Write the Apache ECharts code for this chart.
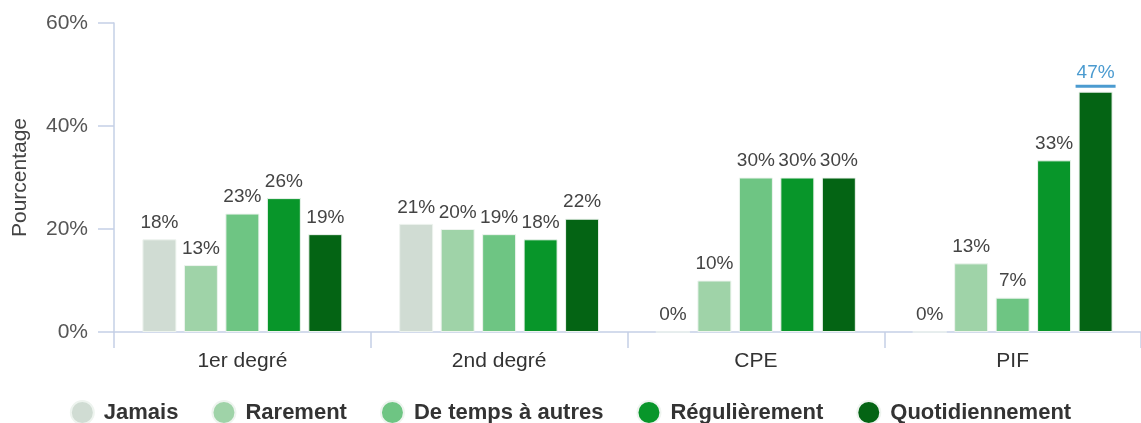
<!DOCTYPE html>
<html lang="fr">
<head>
    <meta charset="UTF-8">
    <title>Pourcentage</title>
    <script src="https://cdn.jsdelivr.net/npm/echarts@6/dist/echarts.min.js"></script>
    <style>
        body { margin: 0; background: #fff; }
    </style>
</head>
<body>
<div id="main" style="width: 1141px;height:423px;"></div>
<script>
    var categories = ['1er degré', '2nd degré', 'CPE', 'PIF'];
    var seriesNames = ['Jamais', 'Rarement', 'De temps à autres', 'Régulièrement', 'Quotidiennement'];
    var colors = ['#d0dcd3', '#9fd3a8', '#6ec583', '#08962a', '#046414'];
    // valeurs en %, une liste par catégorie de réponse
    var jamais = [18, 21, 0, 0];
    var rarement = [13, 20, 10, 13.33];
    var deTemps = [23, 19, 30, 6.67];
    var regulierement = [26, 18, 30, 33.33];
    var quotidiennement = [19, 22, 30, 46.67];
    var yTicks = [0, 20, 40, 60];

    var allData = [jamais, rarement, deTemps, regulierement, quotidiennement];

    var myChart = echarts.init(document.getElementById('main'));
    var font = '"Liberation Sans", Arial, sans-serif';

    var series = [];
    for (var i = 0; i < seriesNames.length; i++) {
        var d = allData[i].map(function (v, j) {
            // la barre PIF / Quotidiennement est mise en évidence
            if (i === 4 && j === 3) {
                return {
                    value: v,
                    label: {
                        distance: 3,
                        formatter: function (p) { return '{a|' + Math.round(p.value) + '%}\n{u|}'; },
                        rich: {
                            a: {color: '#4b9bd0', fontSize: 19, fontFamily: font, lineHeight: 21},
                            u: {backgroundColor: '#4b9bd0', width: 40, height: 3, lineHeight: 5}
                        }
                    }
                };
            }
            return v;
        });
        series.push({
            name: seriesNames[i],
            type: 'bar',
            barWidth: 34,
            barGap: '22%',
            itemStyle: {color: colors[i], borderColor: '#eef4ef', borderWidth: 1},
            label: {
                show: true,
                position: 'top',
                distance: 7,
                color: '#444',
                fontSize: 19,
                fontFamily: font,
                formatter: function (p) { return Math.round(p.value) + '%'; }
            },
            data: d
        });
    }

    var option = {
        animation: false,
        color: colors,
        textStyle: {fontFamily: font},
        grid: {left: 114, right: -8, top: 23, bottom: 91},
        legend: {
            bottom: -7,
            left: 'center',
            icon: 'circle',
            itemWidth: 23,
            itemHeight: 23,
            itemGap: 33,
            textStyle: {fontSize: 22, fontWeight: 'bold', color: '#333', fontFamily: font, padding: [0, 0, 0, 5]},
            data: seriesNames
        },
        xAxis: {
            type: 'category',
            data: categories,
            axisLine: {lineStyle: {color: '#c5d0e6', width: 1.5}},
            axisTick: {show: true, length: 16, lineStyle: {color: '#c5d0e6', width: 1.5}},
            axisLabel: {fontSize: 21, color: '#333', margin: 19, fontFamily: font}
        },
        yAxis: {
            type: 'value',
            min: yTicks[0],
            max: yTicks[yTicks.length - 1],
            interval: 20,
            name: 'Pourcentage',
            nameLocation: 'middle',
            nameGap: 83,
            nameTextStyle: {fontSize: 21, color: '#444', fontFamily: font},
            axisLine: {show: true, lineStyle: {color: '#c5d0e6', width: 1.5}},
            axisTick: {show: true, length: 16, lineStyle: {color: '#c5d0e6', width: 1.5}},
            splitLine: {show: false},
            axisLabel: {fontSize: 21, color: '#555', margin: 26, fontFamily: font, formatter: '{value}%'}
        },
        series: series
    };

    myChart.setOption(option);
</script>
</body>
</html>
